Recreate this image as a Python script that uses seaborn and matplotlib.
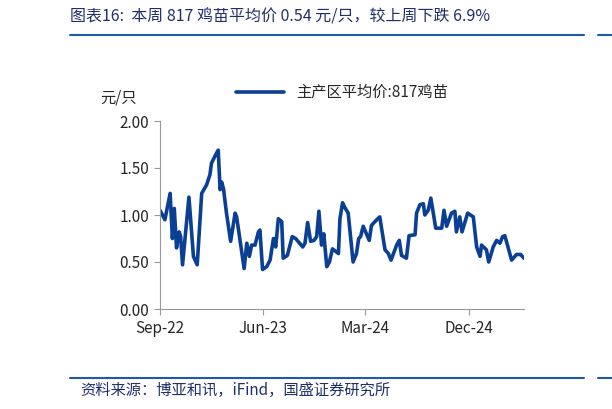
import pandas as pd
import matplotlib
matplotlib.use("Agg")
import matplotlib.pyplot as plt
import matplotlib.dates as mdates
import seaborn as sns

# days after 2022-09-01, and price (yuan per chick)
day_offsets = [0, 13, 27, 33, 38, 44, 51, 55, 60, 77, 89, 99, 111, 124, 133, 137, 148, 155, 160, 164,
               169, 177, 188, 200, 204, 224, 231, 238, 244, 253, 262, 266, 273, 284, 293, 302, 308, 315,
               324, 328, 339, 352, 361, 380, 386, 393, 401, 410, 417, 423, 430, 436, 444, 451, 459, 475,
               479, 486, 492, 501, 514, 523, 529, 534, 541, 557, 563, 577, 585, 599, 608, 615, 630, 637,
               643, 656, 663, 679, 683, 692, 701, 705, 714, 721, 734, 750, 756, 763, 776, 785, 789, 798,
               804, 819, 834, 843, 852, 856, 869, 875, 887, 896, 905, 912, 918, 936, 949, 960, 969]
prices = [1.05, 0.95, 1.23, 0.75, 1.07, 0.65, 0.82, 0.77, 0.47, 1.19, 0.56, 0.47, 1.23, 1.32, 1.43, 1.55,
          1.64, 1.69, 1.27, 1.35, 1.28, 1.02, 0.72, 1.02, 0.98, 0.43, 0.70, 0.56, 0.68, 0.68, 0.82, 0.84,
          0.42, 0.45, 0.52, 0.75, 0.66, 0.96, 0.93, 0.54, 0.57, 0.77, 0.75, 0.66, 0.70, 0.92, 0.72, 0.73,
          0.77, 1.04, 0.68, 0.80, 0.45, 0.50, 0.64, 0.59, 0.96, 1.13, 1.08, 1.02, 0.50, 0.59, 0.75, 0.77,
          0.88, 0.73, 0.89, 0.95, 0.98, 0.63, 0.59, 0.52, 0.68, 0.73, 0.57, 0.54, 0.78, 0.79, 1.02, 1.11,
          1.12, 1.00, 1.05, 1.18, 0.86, 0.86, 1.05, 0.88, 1.02, 1.04, 0.82, 0.98, 0.82, 1.02, 0.98, 0.66,
          0.56, 0.68, 0.63, 0.50, 0.66, 0.73, 0.70, 0.77, 0.78, 0.52, 0.58, 0.58, 0.54]
tick_dates = ["2022-09-01", "2023-06-01", "2024-03-01", "2024-12-01"]
tick_labels = ["Sep-22", "Jun-23", "Mar-24", "Dec-24"]

start = pd.Timestamp("2022-09-01")
df = pd.DataFrame({"date": start + pd.to_timedelta(day_offsets, unit="D"), "price": prices})

sns.set_style("white")
plt.rcParams["font.family"] = ["Noto Sans CJK SC", "DejaVu Sans"]

fig = plt.figure(figsize=(6.12, 4.09), dpi=100)
ax = fig.add_axes([160 / 612, 1 - 309 / 409, 364 / 612, 188 / 409])
blue = "#0B3F94"
sns.lineplot(data=df, x="date", y="price", ax=ax, color=blue, lw=2.6, label="主产区平均价:817鸡苗")

ax.set_xlim(start, start + pd.Timedelta(days=969))
ax.set_ylim(0, 2.0)
ax.set_yticks([0, 0.5, 1.0, 1.5, 2.0])
ax.set_yticklabels(["0.00", "0.50", "1.00", "1.50", "2.00"], fontsize=11)
ax.set_xticks(pd.to_datetime(tick_dates))
ax.set_xticklabels(tick_labels, fontsize=11)
ax.set_xlabel("")
ax.set_ylabel("")
for s in ["top", "right"]:
    ax.spines[s].set_visible(False)
for s in ["left", "bottom"]:
    ax.spines[s].set_color("#999999")
ax.tick_params(axis="both", direction="out", length=4, color="#999999", left=True, bottom=True, pad=4)
ax.legend(loc="upper center", bbox_to_anchor=(0.5, 1.27), frameon=False, fontsize=11, handlelength=3.2)

fig.text(100 / 612, 1 - 98 / 409, "元/只", fontsize=11, va="center")
fig.text(70 / 612, 1 - 17 / 409, "图表16:  本周 817 鸡苗平均价 0.54 元/只，较上周下跌 6.9%",
         fontsize=11.5, style="italic", color="#1F2F6B", va="center")
fig.add_artist(plt.Line2D([70 / 612, 584 / 612], [1 - 35 / 409] * 2, color="#1D5AA8", lw=1.5))
fig.add_artist(plt.Line2D([598 / 612, 612 / 612], [1 - 35 / 409] * 2, color="#1D5AA8", lw=1.5))
fig.add_artist(plt.Line2D([70 / 612, 584 / 612], [1 - 378 / 409] * 2, color="#1D5AA8", lw=1.5))
fig.add_artist(plt.Line2D([598 / 612, 612 / 612], [1 - 378 / 409] * 2, color="#1D5AA8", lw=1.5))
fig.text(80 / 612, 1 - 390 / 409, "资料来源：博亚和讯，iFind，国盛证券研究所",
         fontsize=11, style="italic", color="#1F2F6B", va="center")

fig.savefig("out.png", dpi=100)
